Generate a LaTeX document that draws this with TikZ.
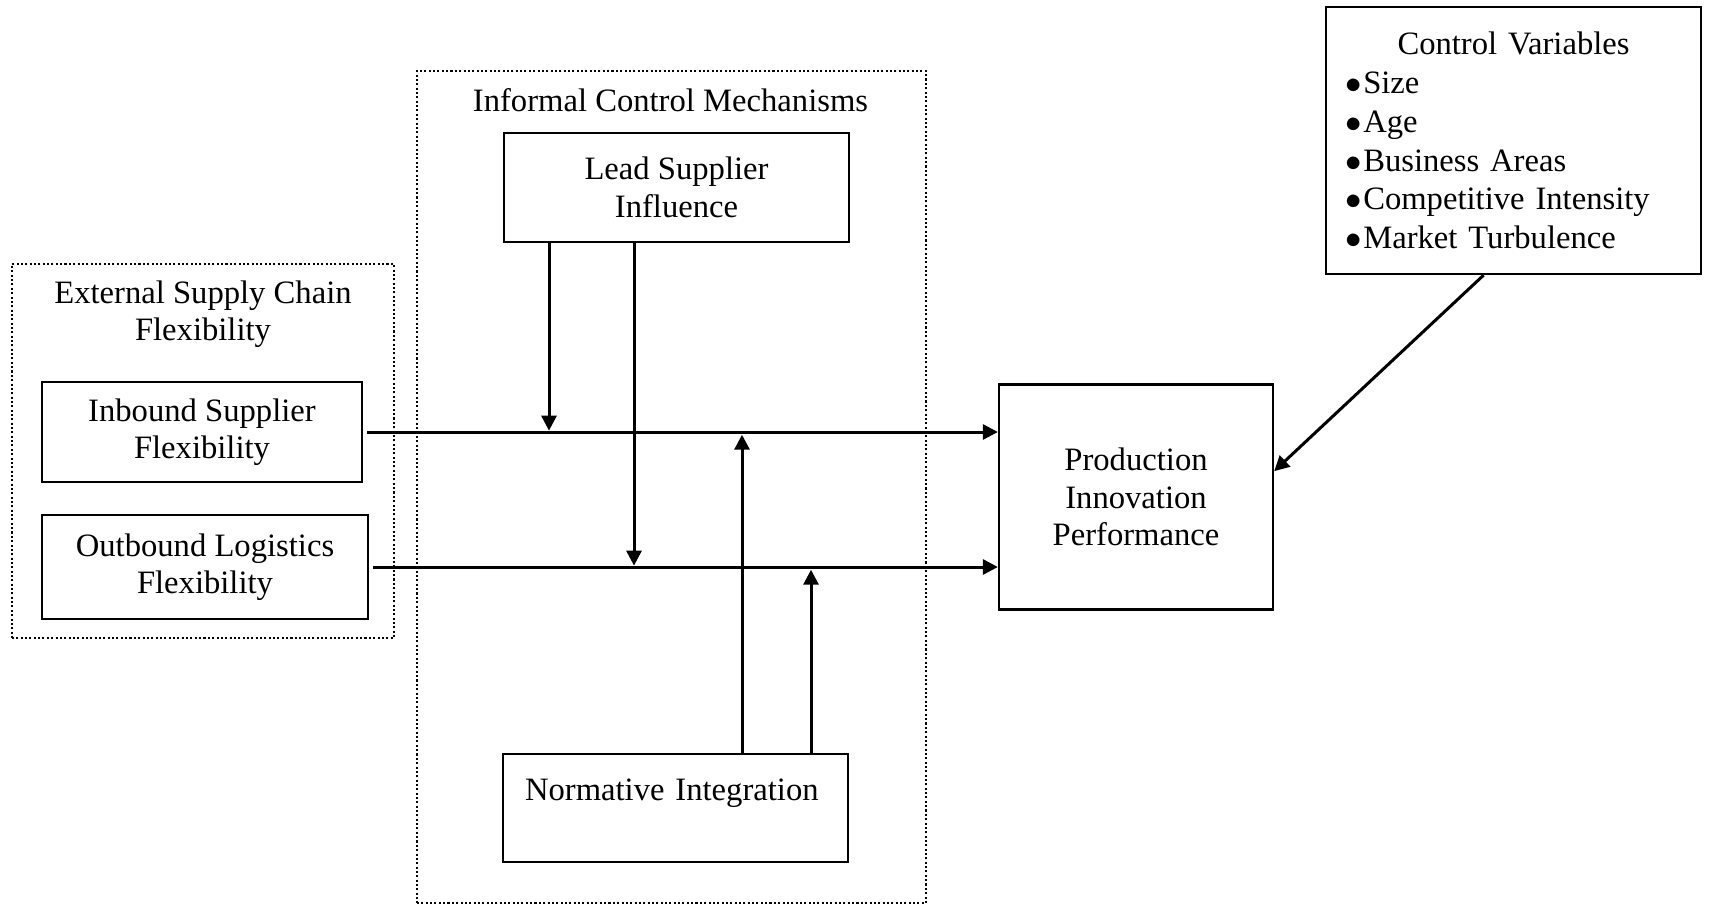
\documentclass[tikz,border=0pt]{standalone}
\usepackage{fontspec}
\setmainfont{Liberation Serif}
\usetikzlibrary{arrows.meta}
\newcommand{\px}{0.3677pt}
\newcommand{\cvitem}{\makebox[5.6pt][l]{\hspace{-1.1pt}$\bullet$}}

\begin{document}
\begin{tikzpicture}[x=\px,y=-\px,
                font=\fontsize{12}{13.8}\selectfont,
                box/.style={draw,line width=0.85pt,align=center,inner sep=0pt},
                grp/.style={draw,line width=0.75pt,dash pattern=on 0.75pt off 0.85pt,inner sep=0pt},
                arr/.style={-{Triangle[length=5.5pt,width=5.5pt]},line width=1.1pt}]
                \useasboundingbox (0,0) rectangle (1722,905);
                \node[grp,minimum width=382*\px,minimum height=374*\px] (esc) at (203,451) {};
                \node[grp,minimum width=509*\px,minimum height=832*\px] (icm) at (671.5,487) {};
                \node[align=center] (esctitle) at (203,314) {External Supply Chain\\Flexibility};
                \node (icmtitle) at (670.5,100) {Informal Control Mechanisms};
                \node[box,minimum width=320*\px,minimum height=100*\px] (insup) at (202,432) {Inbound Supplier\\Flexibility};
                \node[box,minimum width=326*\px,minimum height=104*\px] (outlog) at (205,567) {Outbound Logistics\\Flexibility};
                \node[box,minimum width=345*\px,minimum height=109*\px] (lead) at (676.5,187.5) {Lead Supplier\\Influence};
                \node[box,minimum width=345*\px,minimum height=108*\px,text width=301*\px,align=left] (norm) at (675.5,808) {Normative Integration\\ \mbox{}};
                \node[box,minimum width=274*\px,minimum height=225*\px] (perf) at (1136,497) {Production\\Innovation\\Performance};
                \node[box,minimum width=375*\px,minimum height=267*\px,text width=331*\px,align=left,
                      font=\fontsize{12}{14.3}\selectfont] (ctrl) at (1513.5,140.5)
                      {\hfill Control Variables\hfill\mbox{}\\
                       \cvitem Size\\
                       \cvitem Age\\
                       \cvitem Business Areas\\
                       \cvitem Competitive Intensity\\
                       \cvitem Market Turbulence};
                \coordinate (j1) at (549,432);
                \coordinate (j2) at (634,567);
                \coordinate (j3) at (742,432);
                \coordinate (j4) at (811,567);
                \draw[arr,shorten <=1.5pt] (insup.east) -- (insup.east -| perf.west);
                \draw[arr,shorten <=1.5pt] (outlog.east) -- (outlog.east -| perf.west);
                \draw[arr] (lead.south -| j1) -- ([yshift=0.5pt]j1);
                \draw[arr] (lead.south -| j2) -- ([yshift=0.5pt]j2);
                \draw[arr] (norm.north -| j3) -- ([yshift=-1pt]j3);
                \draw[arr] (norm.north -| j4) -- ([yshift=-1pt]j4);
                \draw[arr] ([xshift=-11pt]ctrl.south) -- ([yshift=9.5pt]perf.east);
\end{tikzpicture}
\end{document}
